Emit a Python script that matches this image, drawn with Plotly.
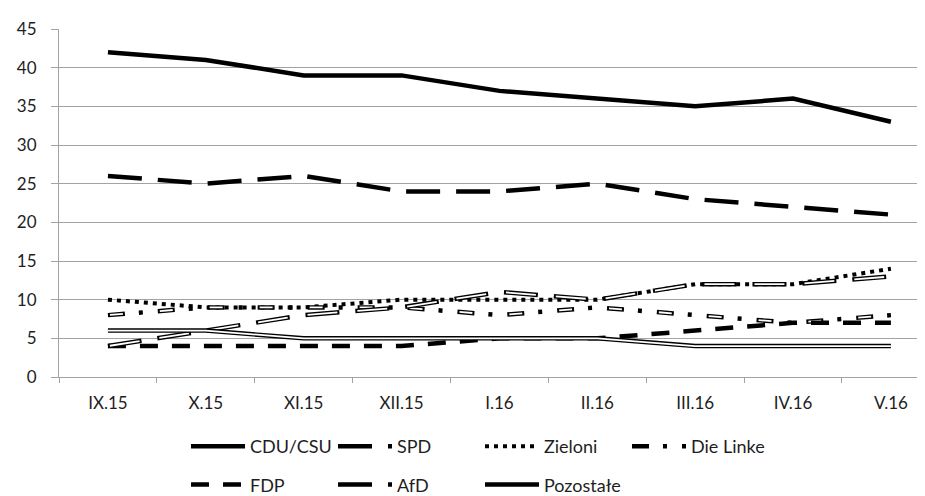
import plotly.graph_objects as go

categories = ["IX.15", "X.15", "XI.15", "XII.15", "I.16", "II.16", "III.16", "IV.16", "V.16"]
cdu_csu = [42, 41, 39, 39, 37, 36, 35, 36, 33]
spd = [26, 25, 26, 24, 24, 25, 23, 22, 21]
zieloni = [10, 9, 9, 10, 10, 10, 12, 12, 14]
die_linke = [8, 9, 9, 9, 8, 9, 8, 7, 8]
fdp = [4, 4, 4, 4, 5, 5, 6, 7, 7]
afd = [4, 6, 8, 9, 11, 10, 12, 12, 13]
pozostale = [6, 6, 5, 5, 5, 5, 4, 4, 4]
y_ticks = [0, 5, 10, 15, 20, 25, 30, 35, 40, 45]

FONT = "Lato"
TXT = "#1e1e1e"
GRID = "#a3a3a3"

fig = go.Figure()

def add(name, y, dash, width, legend, color="black", show=True):
    fig.add_trace(go.Scatter(
        x=categories, y=y, name=name, mode="lines",
        line=dict(color=color, width=width, dash=dash),
        legend=legend, showlegend=show, hoverinfo="skip",
    ))

add("CDU/CSU", cdu_csu, "solid", 4.5, "legend")
add("SPD", spd, "34px,16px", 4.5, "legend")
add("Zieloni", zieloni, "4px,5px", 4, "legend")
add("Die Linke", die_linke, "17px,14px,4px,15px", 4.5, "legend")
add("Die Linke", die_linke, "0px,2px,13px,35px", 1.8, "legend", color="white", show=False)
add("FDP", fdp, "18px,14px", 4.5, "legend2")
add("AfD", afd, "34px,16px", 4.5, "legend2")
add("AfD", afd, "0px,2px,30px,18px", 1.8, "legend2", color="white", show=False)
add("Pozostałe", pozostale, "solid", 4.5, "legend2")
add("Pozostałe", pozostale, "solid", 1.8, "legend2", color="white", show=False)

legend_common = dict(
    orientation="h", xanchor="left", yanchor="middle",
    font=dict(family=FONT, size=18, color=TXT),
    entrywidth=78, entrywidthmode="pixels",
    bgcolor="rgba(0,0,0,0)", itemwidth=54, traceorder="normal",
)

fig.update_layout(
    width=925, height=496,
    margin=dict(l=51, r=0, t=21, b=119),
    paper_bgcolor="white", plot_bgcolor="white",
    font=dict(family=FONT, size=17, color=TXT),
    xaxis=dict(
        type="category", range=[-0.5, 8.43],
        showline=True, linecolor=GRID, linewidth=1,
        ticks="outside", tickson="boundaries", ticklen=5, tickcolor=GRID,
        ticklabelstandoff=11,
        showgrid=False, tickfont=dict(family=FONT, size=17, color=TXT),
    ),
    yaxis=dict(
        range=[0, 45], tickvals=y_ticks,
        showline=True, linecolor=GRID, linewidth=1,
        ticks="outside", ticklen=7, tickcolor=GRID,
        ticklabelstandoff=11,
        showgrid=True, gridcolor=GRID, gridwidth=1, zeroline=False,
        tickfont=dict(family=FONT, size=17, color=TXT),
    ),
    legend=dict(x=0.1453, y=-0.2, **legend_common),
    legend2=dict(x=0.1453, y=-0.31, **legend_common),
)

fig.write_html("out.html")
